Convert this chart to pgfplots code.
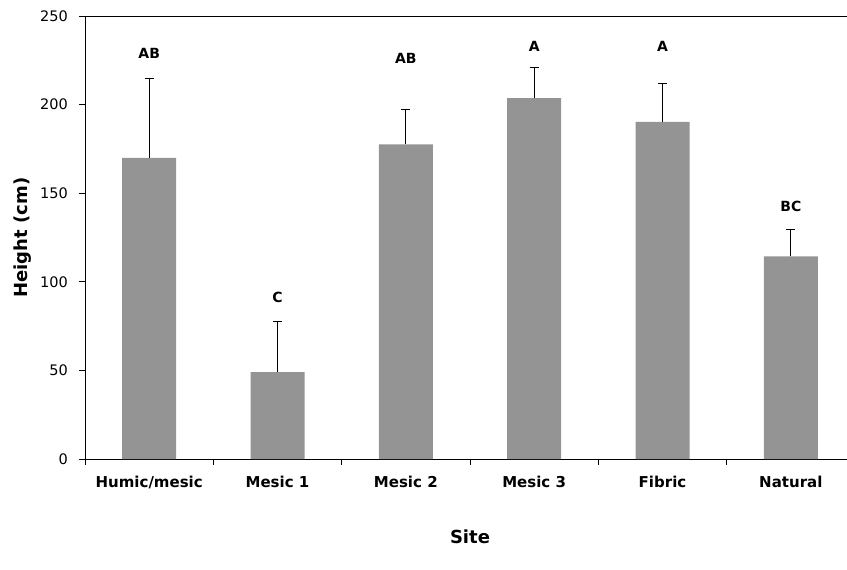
\documentclass[border=0pt]{standalone}
\usepackage{pgfplots}
\pgfplotsset{compat=1.18}
\usepackage{fontspec}
\setmainfont{DejaVu Sans}
\definecolor{barg}{RGB}{148,148,148}
\begin{document}
\begin{tikzpicture}
\begin{axis}[
  scale only axis, width=770bp, height=443bp,
  xmin=-0.5, xmax=5.5, ymin=0, ymax=250,
  axis line style={black, line width=0.9bp},
  /pgf/number format/assume math mode=true,
  xtick pos=bottom, ytick pos=left,
  ytick={0,50,...,250},
  xtick={-0.5,0.5,...,5.5},
  xticklabels={},
  extra x ticks={0,1,2,3,4,5},
  extra x tick labels={Humic/mesic, Mesic 1, Mesic 2, Mesic 3, Fibric, Natural},
  extra x tick style={major tick length=0pt, tick style={draw=none},
    tick label style={font=\fontsize{15bp}{18bp}\selectfont\bfseries, anchor=center, yshift=-23bp}},
  tick align=outside,
  major tick length=6bp,
  tick style={black, line width=0.8bp},
  yticklabel style={font=\fontsize{14.5bp}{17bp}\selectfont, anchor=east, inner sep=0pt, xshift=-11bp},
  xlabel={Site},
  ylabel={Height (cm)},
  xlabel style={font=\fontsize{18bp}{21bp}\selectfont\bfseries, at={(axis description cs:0.5,-0.176)}, anchor=center},
  ylabel style={font=\fontsize{18bp}{21bp}\selectfont\bfseries, at={(axis description cs:-0.0805,0.5)}, anchor=center},
]
\addplot[ybar, bar width=54bp, fill=barg, draw=none,
  error bars/.cd, y dir=plus, y explicit,
  error bar style={black, line width=1.1bp},
  error mark options={rotate=90, mark size=4.5bp, black, line width=1.1bp}]
  table[x=x, y=y, y error=e] {
x y e
0 170 44.5
1 49 28.4
2 177.5 19.5
3 203.7 17.3
4 190.3 21.4
5 114.3 15
};
\begin{scope}[every node/.style={font=\fontsize{14bp}{17bp}\selectfont\bfseries, anchor=center}]
\node at (axis cs:0,229) {AB};
\node at (axis cs:1,91.4) {C};
\node at (axis cs:2,226) {AB};
\node at (axis cs:3,232.8) {A};
\node at (axis cs:4,232.8) {A};
\node at (axis cs:5,142.4) {BC};
\end{scope}
\end{axis}
\pgfresetboundingbox
\path ([shift={(-85bp,-110bp)}]current axis.south west) rectangle ([shift={(-8bp,16bp)}]current axis.north east);
\end{tikzpicture}
\end{document}
